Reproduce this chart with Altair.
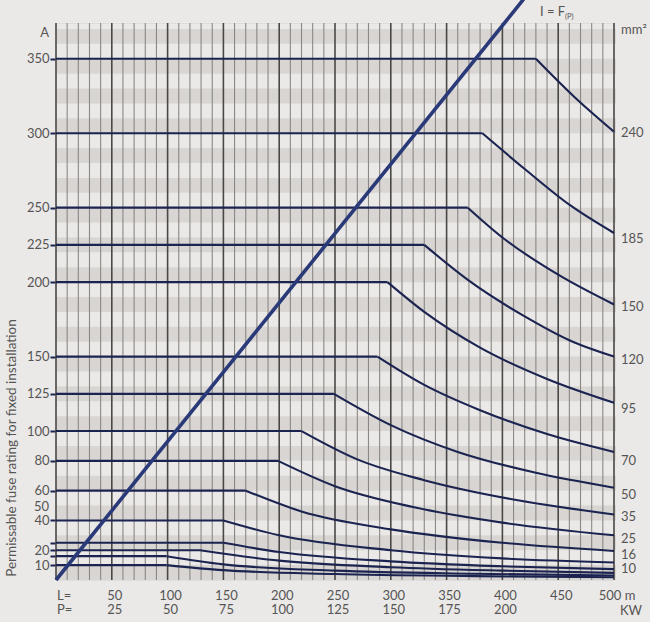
import altair as alt
import pandas as pd

# ---------------- data ----------------
ratings = [350, 300, 250, 225, 200, 150, 125, 100, 80, 60, 40, 25, 20, 16, 10]
knee_L = [430, 382, 369, 330, 297, 288, 249, 220, 199, 170, 150, 150, 129, 99, 99]
drop_L = [
    [465, 500],
    [420, 460, 500],
    [400, 450, 500],
    [370, 420, 460, 500],
    [330, 380, 440, 500],
    [330, 380, 440, 500],
    [300, 360, 430, 500],
    [270, 330, 410, 500],
    [250, 320, 400, 500],
    [220, 300, 400, 500],
    [200, 300, 400, 500],
    [200, 300, 400, 500],
    [200, 300, 400, 500],
    [150, 250, 375, 500],
    [150, 250, 375, 500],
]
drop_I = [
    [324, 301],
    [276, 252, 233],
    [230, 205, 185],
    [201, 177, 161, 150],
    [180, 156, 135, 119],
    [131, 114, 98, 86],
    [104, 86, 72, 62],
    [81, 67, 54, 44],
    [63, 49, 38.5, 30],
    [46, 34, 25, 19.5],
    [30, 20, 14.5, 11.8],
    [18.8, 12.5, 9.2, 7.3],
    [13, 8.6, 6.3, 4.8],
    [10.5, 6.3, 4.2, 3.0],
    [6.6, 4.0, 2.6, 1.8],
]

diag_L = [0, 419]
diag_I = [0, 390]

cross_sections = ["240", "185", "150", "120", "95", "70", "50", "35", "25", "16", "10"]
cross_label_I = [300, 229, 183, 148, 115, 80, 57, 42, 27.5, 16.5, 7.2]

L_ticks = [50, 100, 150, 200, 250, 300, 350, 400, 450, 500]
L_texts = ["50", "100", "150", "200", "250", "300", "350", "400", "450", "500 m"]
P_ticks = [50, 100, 150, 200, 250, 300, 350, 400]
P_texts = ["25", "50", "75", "100", "125", "150", "175", "200"]

hidden_left_labels = [25, 16]

# ---------------- tables ----------------
rows = []
for i, (r, k) in enumerate(zip(ratings, knee_L)):
    rows.append({"L": 0, "I": r, "seg": f"{i}a"})
    rows.append({"L": k, "I": r, "seg": f"{i}a"})
    rows.append({"L": k, "I": r, "seg": f"{i}b"})
    for l, v in zip(drop_L[i], drop_I[i]):
        rows.append({"L": l, "I": v, "seg": f"{i}b"})
curves = pd.DataFrame(rows)

stripes = pd.DataFrame({"lo": list(range(0, 370, 20)), "hi": [v + 10 for v in range(0, 370, 20)]})
vgrid = pd.DataFrame({"L": list(range(0, 501, 10))})
vgrid["major"] = vgrid["L"] % 50 == 0
diag = pd.DataFrame({"L": diag_L, "I": diag_I})
right_lab = pd.DataFrame({"t": cross_sections, "I": cross_label_I})
lrow = pd.DataFrame({"L": L_ticks, "t": L_texts})
prow = pd.DataFrame({"L": P_ticks, "t": P_texts})

# ---------------- scales / axes ----------------
FONT = "Lato"
NAVY = "#1b2350"
TXT = "#555555"
FS = 13
xs = alt.Scale(domain=[0, 500], nice=False, zero=False)
ys = alt.Scale(domain=[0, 374], nice=False, zero=False)
hide = " || ".join(f"datum.value == {v}" for v in hidden_left_labels)
yaxis = alt.Axis(
    values=ratings, title=None, domain=False, grid=False,
    tickSize=6, tickWidth=2, tickColor=NAVY,
    labelPadding=1, labelFontSize=FS, labelColor=TXT, labelFont=FONT,
    labelOverlap=False, labelFlush=False,
    labelExpr=f"({hide}) ? '' : datum.label",
)

base_x = lambda f: alt.X(f, type="quantitative", scale=xs, axis=None)
base_y = lambda f: alt.Y(f, type="quantitative", scale=ys, axis=yaxis)

stripe_layer = alt.Chart(stripes).mark_rect(color="#d8d5d2").encode(
    x=alt.value(0), x2=alt.value(560),
    y=base_y("lo"), y2="hi",
)

grid_layer = alt.Chart(vgrid).mark_rule().encode(
    x=base_x("L"),
    color=alt.condition("datum.major", alt.value("#4a4846"), alt.value("#8a8886")),
    strokeWidth=alt.condition("datum.major", alt.value(1.6), alt.value(1.1)),
)

curve_layer = alt.Chart(curves).mark_line(
    color=NAVY, strokeWidth=2.1, interpolate="monotone"
).encode(
    x=base_x("L"), y=base_y("I"), detail="seg:N", order="L:Q",
)

diag_layer = alt.Chart(diag).mark_line(color="#2a3a78", strokeWidth=3.6, clip=False).encode(
    x=base_x("L"), y=base_y("I"),
)

right_layer = alt.Chart(right_lab).mark_text(
    align="left", baseline="middle", fontSize=FS, color=TXT, font=FONT
).encode(x=alt.value(565), y=base_y("I"), text="t:N")

lrow_layer = alt.Chart(lrow).mark_text(
    align="center", baseline="middle", fontSize=FS, color=TXT, font=FONT, dx=3
).encode(x=base_x("L"), y=alt.value(573), text="t:N")

prow_layer = alt.Chart(prow).mark_text(
    align="center", baseline="middle", fontSize=FS, color=TXT, font=FONT, dx=3
).encode(x=base_x("L"), y=alt.value(587), text="t:N")

def label(text, x, y, size=FS, align="left", angle=0):
    kw = dict(align=align, baseline="middle", fontSize=size, color=TXT, font=FONT, text=text)
    if angle:
        kw["angle"] = angle
    return alt.Chart(pd.DataFrame({"a": [0]})).mark_text(**kw).encode(
        x=alt.value(x), y=alt.value(y)
    )

extras = [
    label("L=", 1, 573),
    label("P=", 1, 587),
    label("KW", 564, 588),
    label("mm²", 565, 7),
    label("A", -7, 10, align="right"),
    label("50", -7, 484, align="right"),
    label("I = F", 484, -11, size=13),
    label("(P)", 509, -6, size=7.5),
    label("Permissable fuse rating for fixed installation", -44, 425, size=13.5,
          align="center", angle=270),
]

chart = alt.layer(
    stripe_layer, grid_layer, curve_layer, diag_layer, right_layer,
    lrow_layer, prow_layer, *extras
).properties(
    width=558, height=557,
    autosize=alt.AutoSizeParams(type="none"),
    padding={"left": 56, "top": 23, "right": 36, "bottom": 42},
    background="#ebe9e7",
).configure_view(
    fill="#f3f1ef", stroke=None
).configure(font=FONT)

chart.save("out.html", embed_options={"renderer": "svg", "actions": False})
